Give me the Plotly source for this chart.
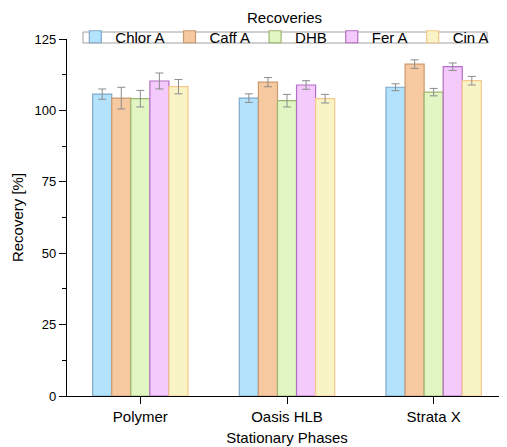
import plotly.graph_objects as go

categories = ["Polymer", "Oasis HLB", "Strata X"]
series_names = ["Chlor A", "Caff A", "DHB", "Fer A", "Cin A"]
chlor_a = [105.7, 104.3, 108.1]
caff_a = [104.3, 109.9, 116.2]
dhb = [104.1, 103.4, 106.4]
fer_a = [110.3, 108.9, 115.3]
cin_a = [108.3, 104.1, 110.4]
chlor_a_err = [1.8, 1.5, 1.2]
caff_a_err = [3.8, 1.6, 1.5]
dhb_err = [2.9, 2.2, 1.3]
fer_a_err = [2.8, 1.5, 1.3]
cin_a_err = [2.5, 1.5, 1.5]
y_ticks = [0, 25, 50, 75, 100, 125]

values = [chlor_a, caff_a, dhb, fer_a, cin_a]
errors = [chlor_a_err, caff_a_err, dhb_err, fer_a_err, cin_a_err]
fills = ["#b3e2fc", "#f6c9a0", "#e2f6c4", "#f3cafb", "#f8f4c6"]
borders = ["#7fa9c9", "#c99a70", "#9fb56e", "#b36fc4", "#f7c88c"]

FONT = "Arial, Liberation Sans, sans-serif"

# page body has an 8px margin, so the figure is shrunk by 8px
W, H = 499, 439
L, T, B = 59, 31, 51
PH = H - T - B  # plot height in px


def py(px_from_plot_top):
    return 1 - px_from_plot_top / PH


fig = go.Figure()
for name, v, e, f, b in zip(series_names, values, errors, fills, borders):
    fig.add_trace(go.Bar(
        x=categories, y=v, name=name,
        marker=dict(color=f, line=dict(color=b, width=1.2)),
        error_y=dict(type="data", array=e, visible=True, color="#8c8c8c",
                     thickness=1, width=4),
    ))

fig.update_layout(
    width=W, height=H,
    margin=dict(l=L, r=0, t=T, b=B, autoexpand=False),
    paper_bgcolor="white", plot_bgcolor="white",
    barmode="group", bargap=0.35, bargroupgap=0,
    font=dict(family=FONT, size=14, color="black"),
    showlegend=True,
    legend=dict(
        orientation="h", x=0.495, xanchor="center", y=py(-2), yanchor="middle",
        borderwidth=0, bgcolor="rgba(0,0,0,0)",
        font=dict(family=FONT, size=15),
        tracegroupgap=0,
    ),
    shapes=[dict(type="rect", xref="paper", yref="paper",
                 x0=16 / 440, x1=420 / 440, y0=py(4), y1=py(-7),
                 line=dict(color="#a0a0a0", width=1), fillcolor="rgba(0,0,0,0)", layer="above")],
    annotations=[dict(text="Recoveries", x=0.495, xref="paper", xanchor="center",
                      y=py(-21), yref="paper", yanchor="middle",
                      showarrow=False, font=dict(family=FONT, size=15))],
    xaxis=dict(
        range=[-0.5, 2.5], showline=True, linecolor="black", linewidth=1.4,
        ticks="outside", ticklen=7, tickcolor="black", tickwidth=1.4, showgrid=False,
        tickfont=dict(size=15),
        title=dict(text="Stationary Phases", standoff=8, font=dict(family=FONT, size=15)),
    ),
    yaxis=dict(
        range=[0, 125], tickvals=y_ticks, showline=True, linecolor="black", linewidth=1.4,
        ticks="outside", ticklen=7, tickcolor="black", tickwidth=1.4, showgrid=False, zeroline=False,
        tickfont=dict(size=13),
        minor=dict(dtick=12.5, ticks="outside", ticklen=4, tickcolor="black", tickwidth=1.2,
                   showgrid=False),
        title=dict(text="Recovery [%]", standoff=7, font=dict(family=FONT, size=15)),
    ),
)

fig.write_html("out.html")
